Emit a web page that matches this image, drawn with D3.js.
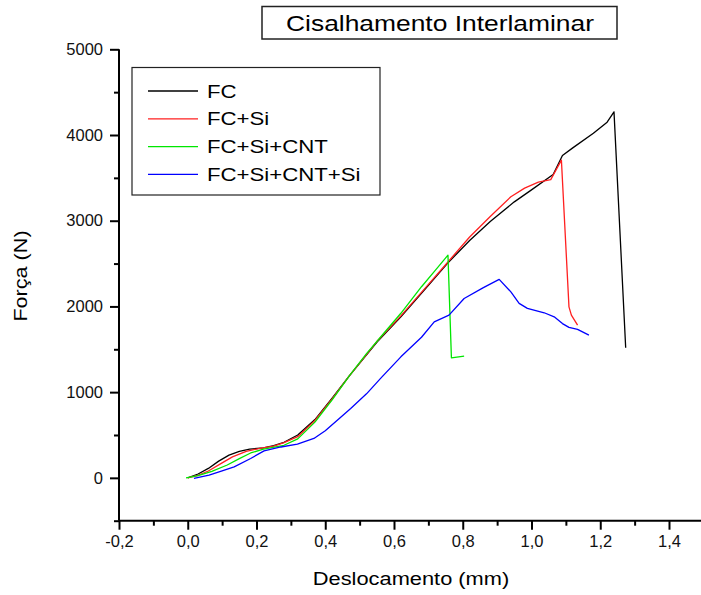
<!DOCTYPE html>
<html>
<head>
<meta charset="utf-8">
<script src="https://cdn.jsdelivr.net/npm/d3@7"></script>
<style>
  html, body { margin: 0; padding: 0; background: #fff; }
  svg { display: block; font-family: "Liberation Sans", Arial, sans-serif; }
</style>
</head>
<body>
<div id="chart"></div>
<script>
// ---------------- DATA ----------------
const seriesNames = ["FC", "FC+Si", "FC+Si+CNT", "FC+Si+CNT+Si"];
const seriesColors = ["#000000", "#ff2020", "#00e600", "#0000ff"];

const fcData = [
  [0,0],[0.03,45],[0.06,110],[0.09,195],[0.12,265],[0.15,310],[0.18,335],[0.22,350],
  [0.25,375],[0.28,415],[0.32,500],[0.37,680],[0.42,930],[0.47,1190],[0.55,1580],
  [0.62,1880],[0.69,2200],[0.755,2500],[0.82,2770],[0.88,2990],[0.95,3220],[1.00,3360],
  [1.063,3540],[1.09,3760],[1.12,3850],[1.18,4020],[1.22,4150],[1.24,4270],[1.274,1517]
];
const fcSiData = [
  [0,0],[0.03,30],[0.06,80],[0.10,175],[0.13,245],[0.17,310],[0.21,345],[0.25,370],
  [0.28,410],[0.32,480],[0.37,670],[0.42,920],[0.47,1190],[0.55,1590],[0.62,1890],
  [0.69,2210],[0.755,2510],[0.82,2810],[0.88,3050],[0.94,3280],[0.98,3380],[1.02,3450],
  [1.056,3480],[1.087,3707],[1.109,1995],[1.116,1898],[1.134,1782]
];
const fcSiCntData = [
  [-0.005,0],[0.03,25],[0.07,75],[0.115,150],[0.15,225],[0.183,290],[0.22,335],[0.28,380],
  [0.32,455],[0.37,650],[0.42,910],[0.47,1190],[0.52,1450],[0.571,1690],[0.62,1920],
  [0.68,2230],[0.72,2420],[0.757,2598],[0.767,1400],[0.804,1420]
];
const fcSiCntSiData = [
  [0.018,-7],[0.062,31],[0.10,80],[0.135,128],[0.183,226],[0.222,315],[0.271,360],
  [0.319,393],[0.367,460],[0.40,550],[0.435,673],[0.474,810],[0.52,980],[0.561,1160],
  [0.62,1412],[0.68,1640],[0.717,1820],[0.76,1898],[0.804,2093],[0.86,2220],[0.906,2315],
  [0.94,2170],[0.964,2035],[0.988,1977],[1.037,1926],[1.066,1879],[1.09,1800],
  [1.109,1755],[1.134,1732],[1.167,1665]
];

const xMajorTicks = [-0.2, 0.0, 0.2, 0.4, 0.6, 0.8, 1.0, 1.2, 1.4];
const xMinorTicks = [-0.1, 0.1, 0.3, 0.5, 0.7, 0.9, 1.1, 1.3, 1.5];
const yMajorTicks = [0, 1000, 2000, 3000, 4000, 5000];
const yMinorTicks = [-500, 500, 1500, 2500, 3500, 4500];

const titleText = "Cisalhamento Interlaminar";
const xTitle = "Deslocamento (mm)";
const yTitle = "Força (N)";

// ---------------- LAYOUT ----------------
const W = 701, H = 595;
const svg = d3.select("#chart").append("svg").attr("width", W).attr("height", H);

const x = d3.scaleLinear().domain([-0.2, 1.4]).range([119, 669]);
const y = d3.scaleLinear().domain([-500, 5000]).range([520.7, 49.3]);

const allSeries = [fcData, fcSiData, fcSiCntData, fcSiCntSiData];

// lines
const line = d3.line().x(d => x(d[0])).y(d => y(d[1]));
svg.append("g").selectAll("path").data(allSeries).join("path")
  .attr("d", d => line(d))
  .attr("fill", "none")
  .attr("stroke", (d, i) => seriesColors[i])
  .attr("stroke-width", 1.3)
  .attr("stroke-linejoin", "round");

const fmtX = v => d3.format(".1f")(v).replace("\u2212", "-").replace(".", ",");

// X axis
const gx = svg.append("g").attr("transform", `translate(0,${y(-500)})`);
gx.call(d3.axisBottom(x).tickValues(xMajorTicks).tickSize(9).tickPadding(6).tickFormat(fmtX));
gx.append("g").call(d3.axisBottom(x).tickValues(xMinorTicks).tickSize(5).tickFormat(""))
  .select(".domain").remove();
gx.select(".domain").attr("d", `M${x(-0.2)},0H${W}`);
gx.selectAll(".tick text").attr("font-size", 16.5).attr("fill", "#111")
  .attr("font-family", "Liberation Sans, Arial, sans-serif");
gx.selectAll("line, path").attr("stroke", "#000").attr("stroke-width", 2);

// Y axis
const gy = svg.append("g").attr("transform", `translate(${x(-0.2)},0)`);
gy.call(d3.axisLeft(y).tickValues(yMajorTicks).tickSize(9).tickPadding(7).tickFormat(d3.format("d")));
gy.append("g").call(d3.axisLeft(y).tickValues(yMinorTicks).tickSize(5).tickFormat(""))
  .select(".domain").remove();
gy.select(".domain").attr("d", `M0,${y(5000)}V${y(-500)}`);
gy.selectAll(".tick text").attr("font-size", 16.5).attr("fill", "#111")
  .attr("font-family", "Liberation Sans, Arial, sans-serif");
gy.selectAll("line, path").attr("stroke", "#000").attr("stroke-width", 2);

// helper for horizontally stretched text
function stretchedText(parent, tx, ty, txt, size, sx, anchor, rotate) {
  const g = parent.append("g")
    .attr("transform", `translate(${tx},${ty})` + (rotate ? ` rotate(${rotate})` : "") + ` scale(${sx},1)`);
  g.append("text").attr("text-anchor", anchor || "middle")
    .attr("font-size", size).attr("fill", "#000").text(txt);
  return g;
}

// Title box
svg.append("rect").attr("x", 262).attr("y", 6.5).attr("width", 355).attr("height", 32.5)
  .attr("fill", "#fff").attr("stroke", "#222").attr("stroke-width", 1.5);
stretchedText(svg, 440, 31, titleText, 22, 1.2, "middle");

// Legend
const lg = svg.append("g");
lg.append("rect").attr("x", 132).attr("y", 67.5).attr("width", 248).attr("height", 127.5)
  .attr("fill", "#fff").attr("stroke", "#222").attr("stroke-width", 1.2);
seriesNames.forEach((name, i) => {
  const yy = 91 + i * 27.8;
  lg.append("line").attr("x1", 148).attr("x2", 198).attr("y1", yy).attr("y2", yy)
    .attr("stroke", seriesColors[i]).attr("stroke-width", 1.3);
  stretchedText(lg, 207, yy + 6.5, name, 18.5, 1.2, "start");
});

// Axis titles
stretchedText(svg, 411, 585, xTitle, 18.5, 1.18, "middle");
stretchedText(svg, 27, 276, yTitle, 18, 1.2, "middle", -90);
</script>
</body>
</html>
